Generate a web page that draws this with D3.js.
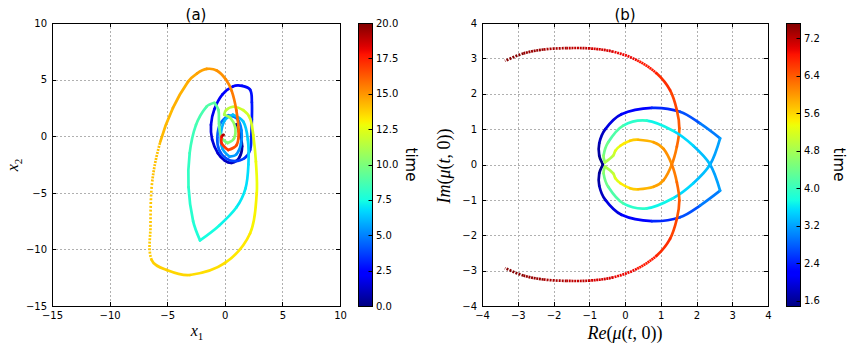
<!DOCTYPE html>
<html>
<head>
<meta charset="utf-8">
<script src="https://cdn.jsdelivr.net/npm/d3@7"></script>
<style>
  body { margin: 0; background: #fff; }
  text { font-family: "DejaVu Sans", sans-serif; fill: #000; }
  .math { font-family: "Liberation Serif", "DejaVu Serif", serif; }
</style>
</head>
<body>
<svg id="fig"></svg>
<script>
var width = 847,
    height = 352;

// panel (a): trajectory (x1, x2), coloured by time
var timeA = [0.0, 0.25, 0.5, 0.75, 1.0, 1.2, 1.4, 1.6, 1.8, 2.0, 2.2, 2.4, 2.55, 2.7, 2.85, 3.0, 3.15, 3.3,
             3.5, 3.7, 3.9, 4.1, 4.3, 4.5, 4.7, 4.9, 5.05, 5.2, 5.4, 5.6, 5.8, 5.95, 6.1, 6.25, 6.4, 6.55,
             6.75, 6.95, 7.15, 7.4, 7.65, 7.85, 8.1, 8.35, 8.6, 8.85, 9.1, 9.3, 9.5, 9.75, 10.0, 10.25, 10.5,
             10.75, 11.0, 11.4, 11.8, 12.0, 12.2, 12.4, 12.65, 12.9, 13.15, 13.4, 13.6, 13.75, 13.85, 13.95,
             14.07, 14.2, 14.38, 14.58, 14.7, 14.85, 15.0, 15.25, 15.45, 15.75, 16.05, 16.4, 16.8, 17.2, 17.7,
             18.5, 20.0];
var x1A = [1.0, 1.25, 1.5, 1.25, 0.6, 0.0, -0.6, -1.1, -1.2, -0.9, -0.2, 0.7, 1.5, 2.2, 2.35, 2.35, 2.3, 2.2,
           1.7, 0.9, 0.1, -0.5, -0.65, -0.4, 0.3, 1.1, 1.45, 1.4, 1.0, 0.4, -0.2, -0.35, 0.0, 0.7, 1.6, 2.0,
           2.05, 1.8, 1.0, -0.5, -2.15, -2.75, -3.15, -3.05, -2.5, -1.6, -0.9, -0.55, -0.5, -0.3, 0.25, 0.8, 0.9,
           0.5, -0.05, 0.1, 0.74, 1.6, 2.19, 2.47, 2.7, 2.77, 2.19, 0.02, -3.02, -5.04, -6.35, -6.45,
           -6.3, -5.6, -4.5, -3.2, -2.4, -1.57, -0.7, 0.1, 0.6, 1.0, 1.2, 1.03, 0.3, -0.27, -0.27,
           -0.15, -0.1];
var x2A = [1.05, 0.4, -0.9, -1.9, -2.35, -2.15, -1.5, -0.3, 1.0, 2.4, 3.7, 4.4, 4.45, 4.1, 3.0, 1.5, 0.0, -1.2,
           -1.95, -2.2, -1.95, -1.2, -0.1, 1.1, 1.85, 1.5, 0.5, -0.7, -1.6, -1.8, -1.1, 0.1, 1.4, 1.9, 1.3, -0.3,
           -2.5, -4.6, -6.3, -7.9, -9.2, -7.5, -4.5, -1.5, 1.0, 2.6, 2.95, 2.3, 1.1, -0.1, -0.6, -0.2, 0.8,
           1.6, 1.9, 2.3, 2.6, 2.3, 1.58, 0.1, -2.25, -5.05, -8.6, -11.2, -12.26, -11.82, -10.94, -8.0,
           -4.0, -0.5, 2.5, 4.8, 5.55, 5.94, 5.8, 5.0, 4.0, 2.3, 0.4, -0.78, -1.22, -0.63, -0.04,
           0.1, 0.12];

// panel (b): upper branch of mu(t,0); the second branch is its complex conjugate
var timeB = [1.49, 1.6, 1.75, 1.9, 2.1, 2.35, 2.6, 2.85, 3.1, 3.3, 3.45, 3.6, 3.8, 4.05, 4.3, 4.5, 4.75,
             5.0, 5.15, 5.35, 5.6, 5.75, 5.9, 6.0, 6.12, 6.25, 6.36, 6.48, 6.62, 6.76, 6.89, 7.01, 7.13,
             7.24, 7.34, 7.44, 7.52];
var reB = [-0.62, -0.72, -0.72, -0.55, -0.1, 0.75, 1.54, 2.1, 2.66, 2.38, 1.91, 1.35, 0.61, -0.05, -0.47, -0.6, -0.56,
           -0.33, -0.27, -0.13, 0.14, 0.37, 0.8, 1.08, 1.31, 1.45, 1.52, 1.45, 1.26, 0.89, 0.33, -0.33, -0.98,
           -1.63, -2.28, -2.84, -3.36];
var imB = [0.0, 0.25, 0.6, 1.0, 1.42, 1.6, 1.49, 1.16, 0.74, 0.0, -0.53, -0.95, -1.24, -1.1, -0.63, -0.25, -0.06,
           -0.25, -0.39, -0.53, -0.67, -0.7, -0.63, -0.44, 0.0, 0.5, 1.02, 1.54, 2.1, 2.57, 2.95, 3.19, 3.28,
           3.29, 3.25, 3.14, 2.93];

var ticksA = [-15, -10, -5, 0, 5, 10];
var ticksB = [-4, -3, -2, -1, 0, 1, 2, 3, 4];
var cbTicksA = [0, 2.5, 5, 7.5, 10, 12.5, 15, 17.5, 20];
var cbTicksB = [1.6, 2.4, 3.2, 4.0, 4.8, 5.6, 6.4, 7.2];
var timeRangeA = [0, 20];
var timeRangeB = [1.49, 7.52];

var svg = d3.select('#fig')
            .attr('width', width)
            .attr('height', height);

// matplotlib "jet"
var jetData = {
  r: [[0, 0], [0.35, 0], [0.66, 1], [0.89, 1], [1, 0.5]],
  g: [[0, 0], [0.125, 0], [0.375, 1], [0.64, 1], [0.91, 0], [1, 0]],
  b: [[0, 0.5], [0.11, 1], [0.34, 1], [0.65, 0], [1, 0]]
};
function chan(pts, v) {
  for (var i = 1; i < pts.length; i++) {
    if (v <= pts[i][0]) {
      var a = pts[i - 1], b = pts[i];
      return a[1] + (b[1] - a[1]) * (v - a[0]) / (b[0] - a[0]);
    }
  }
  return pts[pts.length - 1][1];
}
function jet(v) {
  v = Math.max(0, Math.min(1, v));
  return d3.rgb(255 * chan(jetData.r, v), 255 * chan(jetData.g, v), 255 * chan(jetData.b, v)).formatHex();
}

function drawPanel(box, ticks, title) {
  var x = d3.scaleLinear().domain([ticks[0], ticks[ticks.length - 1]]).range([box.left, box.right]);
  var y = d3.scaleLinear().domain([ticks[0], ticks[ticks.length - 1]]).range([box.bottom, box.top]);
  var g = svg.append('g');

  g.append('g').selectAll('line')
    .data(ticks.slice(1, -1))
    .enter().append('line')
      .attr('x1', d => Math.round(x(d)) + 0.5).attr('x2', d => Math.round(x(d)) + 0.5)
      .attr('y1', box.top).attr('y2', box.bottom)
      .attr('stroke', '#b0b0b0').attr('stroke-dasharray', '2,2');
  g.append('g').selectAll('line')
    .data(ticks.slice(1, -1))
    .enter().append('line')
      .attr('y1', d => Math.round(y(d)) + 0.5).attr('y2', d => Math.round(y(d)) + 0.5)
      .attr('x1', box.left).attr('x2', box.right)
      .attr('stroke', '#b0b0b0').attr('stroke-dasharray', '2,2');

  var fmt = d3.format('d');
  g.append('g')
    .attr('transform', 'translate(0,' + box.bottom + ')')
    .call(d3.axisBottom(x).tickValues(ticks).tickSize(0).tickPadding(6).tickFormat(fmt))
    .call(a => a.select('.domain').remove())
    .selectAll('text').style('font-size', '10px').style('font-family', '"DejaVu Sans"');
  g.append('g')
    .attr('transform', 'translate(' + box.left + ',0)')
    .call(d3.axisLeft(y).tickValues(ticks).tickSize(0).tickPadding(5).tickFormat(fmt))
    .call(a => a.select('.domain').remove())
    .selectAll('text').style('font-size', '10px').style('font-family', '"DejaVu Sans"');

  svg.append('text')
    .attr('x', (box.left + box.right) / 2)
    .attr('y', 20)
    .style('font-size', '15px')
    .style('text-anchor', 'middle')
    .text(title);

  return {x: x, y: y, g: g};
}

function drawFrame(box, x, y, ticks) {
  var f = svg.append('g');
  ticks.forEach(function(d) {
    var px = Math.round(x(d)) + 0.5, py = Math.round(y(d)) + 0.5;
    f.append('line').attr('x1', px).attr('x2', px).attr('y1', box.bottom).attr('y2', box.bottom - 4).attr('stroke', '#000');
    f.append('line').attr('x1', px).attr('x2', px).attr('y1', box.top).attr('y2', box.top + 4).attr('stroke', '#000');
    f.append('line').attr('y1', py).attr('y2', py).attr('x1', box.left).attr('x2', box.left + 4).attr('stroke', '#000');
    f.append('line').attr('y1', py).attr('y2', py).attr('x1', box.right).attr('x2', box.right - 4).attr('stroke', '#000');
  });
  f.append('rect')
    .attr('x', box.left + 0.5).attr('y', box.top + 0.5)
    .attr('width', box.right - box.left).attr('height', box.bottom - box.top)
    .attr('fill', 'none').attr('stroke', '#000');
}

// one coloured stroke per time step; fast parts show up dotted like the scattered samples
function drawTrail(g, ts, xs, ys, x, y, cscale, dt) {
  var P = ts.map((t, i) => [x(xs[i]), y(ys[i])]);
  var n = P.length;
  function unit(v) { var l = Math.hypot(v[0], v[1]) || 1; return [v[0] / l, v[1] / l]; }
  var dir = P.map(function(p, i) {
    if (i == 0) return unit([P[1][0] - p[0], P[1][1] - p[1]]);
    if (i == n - 1) return unit([p[0] - P[i - 1][0], p[1] - P[i - 1][1]]);
    var a = unit([p[0] - P[i - 1][0], p[1] - P[i - 1][1]]);
    var b = unit([P[i + 1][0] - p[0], P[i + 1][1] - p[1]]);
    if (a[0] * b[0] + a[1] * b[1] < 0.4) return null;   // cusp: keep it sharp
    return unit([P[i + 1][0] - P[i - 1][0], P[i + 1][1] - P[i - 1][1]]);
  });
  for (var i = 0; i < n - 1; i++) {
    var p0 = P[i], p1 = P[i + 1];
    var L = Math.hypot(p1[0] - p0[0], p1[1] - p0[1]);
    var c1 = dir[i] ? [p0[0] + dir[i][0] * L / 3, p0[1] + dir[i][1] * L / 3] : p0;
    var c2 = dir[i + 1] ? [p1[0] - dir[i + 1][0] * L / 3, p1[1] - dir[i + 1][1] * L / 3] : p1;
    var gap = L / (ts[i + 1] - ts[i]) * dt;
    var seg = g.append('path')
      .attr('d', 'M' + p0 + 'C' + c1 + ' ' + c2 + ' ' + p1)
      .attr('fill', 'none')
      .attr('stroke', jet(cscale((ts[i] + ts[i + 1]) / 2)))
      .attr('stroke-width', 2.7);
    if (gap > 2.4) {
      seg.attr('stroke-linecap', 'butt').attr('stroke-dasharray', '2,' + (gap - 2).toFixed(2));
    } else {
      seg.attr('stroke-linecap', 'round');
    }
  }
}

function drawColorbar(box, domain, ticks, id, fmt) {
  var s = d3.scaleLinear().domain(domain).range([box.bottom, box.top]);
  var grad = svg.append('defs').append('linearGradient')
    .attr('id', id).attr('x1', 0).attr('y1', 1).attr('x2', 0).attr('y2', 0);
  d3.range(0, 65).forEach(function(k) {
    grad.append('stop').attr('offset', k / 64).attr('stop-color', jet(k / 64));
  });
  svg.append('rect')
    .attr('x', box.left + 0.5).attr('y', box.top + 0.5)
    .attr('width', box.right - box.left).attr('height', box.bottom - box.top)
    .attr('fill', 'url(#' + id + ')').attr('stroke', '#000');
  svg.append('g').selectAll('line').data(ticks).enter().append('line')
    .attr('x1', box.right + 0.5).attr('x2', box.right - 3.5)
    .attr('y1', d => Math.round(s(d)) + 0.5).attr('y2', d => Math.round(s(d)) + 0.5)
    .attr('stroke', '#000');
  svg.append('g').selectAll('text').data(ticks).enter().append('text')
    .attr('x', box.right + 4)
    .attr('y', d => s(d))
    .attr('dy', '0.35em')
    .style('font-size', '10px')
    .text(d3.format(fmt));
  svg.append('text')
    .attr('transform', 'translate(' + (box.right + 34) + ',' + ((box.top + box.bottom) / 2) + ') rotate(90)')
    .style('font-size', '15px')
    .style('text-anchor', 'middle')
    .text('time');
}

// (a)
var boxA = {left: 52, right: 340, top: 23, bottom: 306};
var pa = drawPanel(boxA, ticksA, '(a)');
var cA = d3.scaleLinear().domain(timeRangeA).range([0, 1]);
drawTrail(pa.g, timeA, x1A, x2A, pa.x, pa.y, cA, 0.01);
drawFrame(boxA, pa.x, pa.y, ticksA);
drawColorbar({left: 358, right: 372, top: 23, bottom: 306}, timeRangeA, cbTicksA, 'cbA', '.1f');

// (b)
var boxB = {left: 482, right: 768, top: 23, bottom: 306};
var pb = drawPanel(boxB, ticksB, '(b)');
var cB = d3.scaleLinear().domain(timeRangeB).range([0, 1]);
drawTrail(pb.g, timeB, reB, imB, pb.x, pb.y, cB, 0.013);
drawTrail(pb.g, timeB, reB, imB.map(v => -v), pb.x, pb.y, cB, 0.013);
drawFrame(boxB, pb.x, pb.y, ticksB);
drawColorbar({left: 786, right: 800, top: 23, bottom: 306}, timeRangeB, cbTicksB, 'cbB', '.1f');

// axis labels
var xl = svg.append('text').attr('class', 'math')
  .attr('x', 197).attr('y', 336).style('font-size', '16px').style('text-anchor', 'middle');
xl.append('tspan').style('font-style', 'italic').text('x');
xl.append('tspan').attr('dy', 4).style('font-size', '11px').text('1');

var yl = svg.append('text').attr('class', 'math')
  .attr('transform', 'translate(18,165) rotate(-90)').style('font-size', '16px').style('text-anchor', 'middle');
yl.append('tspan').style('font-style', 'italic').text('x');
yl.append('tspan').attr('dy', 4).style('font-size', '11px').text('2');

function muLabel(t, part) {
  t.append('tspan').style('font-style', 'italic').text(part);
  t.append('tspan').text('(');
  t.append('tspan').style('font-style', 'italic').text('μ');
  t.append('tspan').text('(');
  t.append('tspan').style('font-style', 'italic').text('t');
  t.append('tspan').text(', 0))');
}
var rl = svg.append('text').attr('class', 'math')
  .attr('x', 625).attr('y', 339).style('font-size', '18px').style('text-anchor', 'middle');
muLabel(rl, 'Re');
var il = svg.append('text').attr('class', 'math')
  .attr('transform', 'translate(450,166) rotate(-90)').style('font-size', '18px').style('text-anchor', 'middle');
muLabel(il, 'Im');
</script>
</body>
</html>
